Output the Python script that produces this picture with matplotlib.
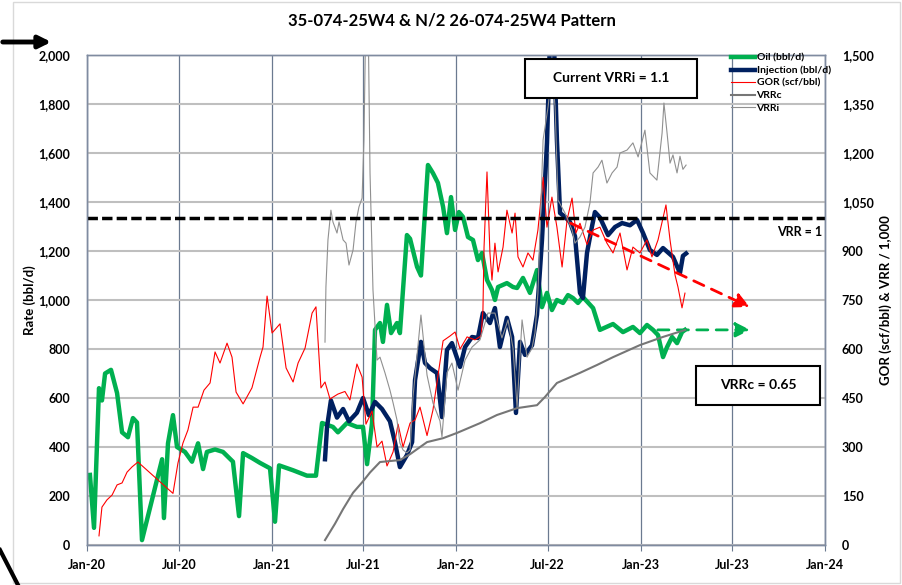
import numpy as np
import pandas as pd
import matplotlib
matplotlib.use('Agg')
import matplotlib.pyplot as plt
import matplotlib.dates as mdates
from matplotlib.patches import Rectangle, FancyArrowPatch
from matplotlib.lines import Line2D
from matplotlib.ticker import MultipleLocator, FuncFormatter

plt.rcParams['font.family'] = ['Lato', 'DejaVu Sans']
plt.rcParams['font.weight'] = 'bold'

# times are years after 1 Jan 2020
oil_t = [0.016, 0.038, 0.065, 0.081, 0.098, 0.130, 0.163, 0.190, 0.222, 0.249,
         0.271, 0.298, 0.407, 0.417, 0.439, 0.466, 0.488, 0.531, 0.569, 0.602,
         0.629, 0.650, 0.694, 0.737, 0.791, 0.824, 0.846, 0.894, 0.938, 0.992,
         1.019, 1.041, 1.117, 1.192, 1.241, 1.274, 1.333, 1.360, 1.409, 1.463,
         1.496, 1.518, 1.545, 1.561, 1.588, 1.604, 1.626, 1.648, 1.680, 1.696,
         1.734, 1.751, 1.789, 1.810, 1.848, 1.875, 1.902, 1.930, 1.951, 1.973,
         1.995, 2.016, 2.038, 2.065, 2.092, 2.119, 2.141, 2.168, 2.195, 2.211,
         2.228, 2.276, 2.309, 2.331, 2.363, 2.401, 2.439, 2.466, 2.493, 2.520,
         2.547, 2.580, 2.607, 2.634, 2.661, 2.688, 2.743, 2.780, 2.851, 2.905,
         2.959, 2.997, 3.035, 3.068, 3.095, 3.122, 3.144, 3.171, 3.198, 3.225,
         3.241]
oil = [286, 70, 640, 590, 700, 715, 620, 460, 440, 518,
       500, 20, 350, 110, 415, 530, 400, 380, 340, 415,
       310, 380, 390, 380, 340, 118, 375, 355, 335, 313,
       95, 325, 305, 283, 283, 498, 482, 460, 498, 482,
       482, 330, 498, 878, 906, 829, 980, 865, 906, 865,
       1265, 1250, 1135, 1100, 1551, 1518, 1478, 1380, 1273, 1420,
       1286, 1359, 1339, 1257, 1245, 1163, 1192, 1082, 1041, 1000,
       1053, 1069, 1053, 1049, 1090, 1029, 1122, 971, 1029, 959,
       1000, 988, 1020, 1008, 988, 1012, 967, 878, 902, 869,
       890, 865, 898, 878, 857, 767, 808, 849, 824, 869,
       878]

inj_t = [1.290, 1.301, 1.322, 1.355, 1.388, 1.420, 1.463, 1.496, 1.528, 1.561,
         1.599, 1.642, 1.669, 1.696, 1.734, 1.762, 1.778, 1.810, 1.832, 1.859,
         1.897, 1.924, 1.951, 1.978, 2.022, 2.049, 2.087, 2.119, 2.146, 2.184,
         2.211, 2.238, 2.276, 2.304, 2.325, 2.347, 2.374, 2.412, 2.439, 2.466,
         2.493, 2.509, 2.531, 2.547, 2.564, 2.591, 2.618, 2.645, 2.672, 2.688,
         2.710, 2.737, 2.753, 2.780, 2.824, 2.862, 2.900, 2.943, 2.981, 3.014,
         3.051, 3.089, 3.122, 3.176, 3.214, 3.230, 3.247]
inj = [350, 482, 590, 520, 555, 505, 540, 600, 530, 584,
       555, 505, 420, 318, 367, 420, 673, 829, 743, 722,
       702, 522, 796, 824, 727, 808, 849, 845, 947, 906,
       967, 808, 927, 849, 539, 829, 776, 815, 940, 1245,
       1641, 2050, 2050, 1653, 1355, 1339, 1318, 1260, 1029, 1008,
       1192, 1300, 1359, 1337, 1265, 1298, 1314, 1305, 1327, 1273,
       1204, 1184, 1212, 1176, 1110, 1180, 1190]

gor_t = [0.065, 0.081, 0.108, 0.136, 0.163, 0.190, 0.217, 0.244, 0.276, 0.466,
         0.493, 0.520, 0.547, 0.575, 0.602, 0.634, 0.667, 0.694, 0.721, 0.759,
         0.786, 0.808, 0.846, 0.894, 0.938, 0.954, 0.976, 1.003, 1.046, 1.079,
         1.117, 1.144, 1.182, 1.220, 1.241, 1.268, 1.290, 1.317, 1.360, 1.398,
         1.425, 1.463, 1.491, 1.512, 1.545, 1.572, 1.599, 1.626, 1.659, 1.686,
         1.713, 1.751, 1.778, 1.805, 1.843, 1.875, 1.930, 1.968, 1.995, 2.022,
         2.060, 2.103, 2.136, 2.146, 2.152, 2.168, 2.184, 2.195, 2.211, 2.228,
         2.255, 2.276, 2.304, 2.320, 2.336, 2.363, 2.390, 2.417, 2.444, 2.472,
         2.493, 2.520, 2.547, 2.575, 2.602, 2.629, 2.650, 2.672, 2.710, 2.743,
         2.780, 2.818, 2.851, 2.889, 2.927, 2.959, 2.997, 3.035, 3.062, 3.095,
         3.138, 3.160, 3.187, 3.203, 3.225, 3.241]
gor = [28, 116, 138, 153, 184, 190, 223, 239, 254, 158,
       251, 312, 352, 422, 422, 474, 496, 591, 557, 618,
       575, 468, 432, 481, 575, 606, 762, 649, 677, 542,
       499, 557, 603, 710, 729, 481, 499, 447, 462, 470,
       444, 554, 514, 370, 410, 300, 318, 242, 285, 370,
       300, 373, 383, 422, 335, 413, 625, 640, 652, 600,
       637, 628, 640, 719, 912, 1142, 894, 811, 924, 836,
       912, 1025, 955, 1016, 882, 851, 894, 872, 964, 1126,
       973, 1065, 973, 851, 995, 1062, 955, 985, 920, 964,
       973, 924, 894, 955, 842, 912, 894, 934, 882, 934,
       1041, 934, 827, 790, 726, 771]

vrri_t = [1.290, 1.295, 1.306, 1.322, 1.333, 1.355, 1.366, 1.388, 1.404, 1.420,
          1.442, 1.458, 1.474, 1.491, 1.501, 1.512, 1.523, 1.534, 1.550, 1.572,
          1.588, 1.615, 1.642, 1.659, 1.680, 1.696, 1.713, 1.734, 1.751, 1.767,
          1.810, 1.843, 1.875, 1.913, 1.924, 1.951, 1.978, 2.011, 2.049, 2.087,
          2.130, 2.173, 2.211, 2.249, 2.282, 2.309, 2.331, 2.358, 2.385, 2.412,
          2.428, 2.444, 2.472, 2.499, 2.520, 2.537, 2.553, 2.591, 2.629, 2.645,
          2.672, 2.699, 2.726, 2.743, 2.770, 2.791, 2.818, 2.846, 2.873, 2.889,
          2.927, 2.959, 2.987, 3.024, 3.051, 3.089, 3.117, 3.127, 3.144, 3.160,
          3.176, 3.198, 3.214, 3.230, 3.247]
vrri = [0.621, 0.790, 0.934, 1.025, 0.989, 0.955, 0.989, 0.934, 0.924, 0.857,
        0.903, 0.989, 1.035, 1.062, 1.240, 1.650, 1.650, 1.139, 0.781, 0.566,
        0.575, 0.527, 0.474, 0.435, 0.383, 0.312, 0.291, 0.282, 0.291, 0.453,
        0.704, 0.520, 0.435, 0.380, 0.331, 0.527, 0.557, 0.474, 0.566, 0.606,
        0.628, 0.710, 0.710, 0.634, 0.689, 0.603, 0.422, 0.689, 0.575, 0.603,
        0.649, 0.771, 1.240, 1.341, 1.454, 1.341, 1.056, 1.016, 0.964, 0.924,
        0.943, 0.973, 1.047, 1.139, 1.157, 1.178, 1.108, 1.139, 1.157, 1.200,
        1.209, 1.231, 1.188, 1.270, 1.139, 1.117, 1.261, 1.353, 1.261, 1.169,
        1.194, 1.139, 1.190, 1.150, 1.163]

vrrc_t = [1.290, 1.344, 1.388, 1.442, 1.496, 1.534, 1.588, 1.696, 1.751, 1.843,
          1.930, 2.005, 2.130, 2.222, 2.331, 2.439, 2.482, 2.547, 2.672, 2.764,
          2.851, 2.997, 3.122, 3.241]
vrrc = [0.015, 0.065, 0.110, 0.160, 0.195, 0.222, 0.254, 0.260, 0.278, 0.315,
        0.327, 0.343, 0.373, 0.398, 0.419, 0.428, 0.453, 0.496, 0.527, 0.551,
        0.575, 0.612, 0.637, 0.658]


def to_date(t):
    return pd.Timestamp('2020-01-01') + pd.to_timedelta(np.asarray(t) * 365.25, unit='D')


W, H = 903, 585
fig = plt.figure(figsize=(W / 100, H / 100), dpi=100)
ax = fig.add_axes([87 / W, 40 / H, 738 / W, 490 / H])
ax2 = ax.twinx()

l_oil, = ax.plot(to_date(oil_t), oil, color='#00b050', lw=3.2, label='Oil (bbl/d)')
l_inj, = ax.plot(to_date(inj_t), inj, color='#002060', lw=3.2, label='Injection (bbl/d)')
l_gor, = ax2.plot(to_date(gor_t), gor, color='#ff0000', lw=0.8, label='GOR (scf/bbl)')
l_vrrc, = ax2.plot(to_date(vrrc_t), np.array(vrrc) * 1000, color='#767676', lw=1.5, label='VRRc')
l_vrri, = ax2.plot(to_date(vrri_t), np.array(vrri) * 1000, color='#909090', lw=0.8, label='VRRi')

ax2.axhline(1000, color='black', lw=2.5, dashes=(3, 1.2))

# trend arrows
ax2.annotate('', xy=(to_date([3.605])[0], 725), xytext=(to_date([2.607])[0], 989),
             arrowprops=dict(arrowstyle='-|>', color='red', lw=2, linestyle=(0, (4, 3)),
                             mutation_scale=22))
ax.annotate('', xy=(to_date([3.610])[0], 878), xytext=(to_date([3.079])[0], 878),
            arrowprops=dict(arrowstyle='-|>', color='#00b050', lw=2, linestyle=(0, (4, 3)),
                            mutation_scale=22))
ax2.text(to_date([3.984])[0], 958, 'VRR = 1', ha='right', va='center', fontsize=9,
         fontweight='bold')

ax.set_xlim(pd.Timestamp('2020-01-01'), pd.Timestamp('2024-01-01'))
ax.set_ylim(0, 2000)
ax2.set_ylim(0, 1500)
ax.yaxis.set_major_locator(MultipleLocator(200))
ax2.yaxis.set_major_locator(MultipleLocator(150))
fmt = FuncFormatter(lambda v, p: f'{v:,.0f}')
ax.yaxis.set_major_formatter(fmt)
ax2.yaxis.set_major_formatter(fmt)
ax.xaxis.set_major_locator(mdates.MonthLocator(bymonth=[1, 7]))
ax.xaxis.set_major_formatter(mdates.DateFormatter('%b-%y'))

ax.set_axisbelow(True)
ax.grid(axis='y', color='#bfbfbf', lw=1.5)
ax.grid(axis='x', color='#6b7a90', lw=0.9)
ax.tick_params(axis='y', length=0, pad=12, labelsize=9)
ax2.tick_params(axis='y', length=0, pad=12, labelsize=9)
ax.tick_params(axis='x', length=4, color='#6b7a90', pad=6, labelsize=9)
for a in (ax, ax2):
    for s in a.spines.values():
        s.set_color('#7f8ba0')
        s.set_linewidth(1)

fig.text(30 / W, 1 - 300 / H, 'Rate (bbl/d)', rotation=90, ha='center', va='center',
         fontsize=9.5, fontweight='bold')
fig.text(886 / W, 1 - 300 / H, 'GOR (scf/bbl) & VRR / 1,000', rotation=90, ha='center',
         va='center', fontsize=9.5, fontweight='bold')
fig.text(452 / W, 1 - 20 / H, '35-074-25W4 & N/2 26-074-25W4 Pattern', ha='center',
         va='center', fontsize=12, fontweight='bold')

ax2.legend(handles=[l_oil, l_inj, l_gor, l_vrrc, l_vrri], loc='upper left',
           bbox_to_anchor=(731 / W, 1 - 53 / H), bbox_transform=fig.transFigure,
           frameon=False, prop={'size': 7.5, 'weight': 'bold'}, handlelength=2.3,
           handletextpad=0.15, labelspacing=0.32, borderpad=0, borderaxespad=0)

# callout boxes
fig.add_artist(Rectangle((525 / W, 1 - 98 / H), 172 / W, 39 / H, transform=fig.transFigure,
                         facecolor='white', edgecolor='black', lw=1.5, zorder=5))
fig.text(611 / W, 1 - 78 / H, 'Current VRRi = 1.1', ha='center', va='center',
         fontsize=10, fontweight='bold', zorder=6)
fig.add_artist(Rectangle((696 / W, 1 - 405 / H), 124 / W, 39 / H, transform=fig.transFigure,
                         facecolor='white', edgecolor='black', lw=1.5, zorder=5))
fig.text(758 / W, 1 - 385 / H, 'VRRc = 0.65', ha='center', va='center',
         fontsize=10, fontweight='bold', zorder=6)

# frame and slide marks
fig.add_artist(Rectangle((13 / W, 2 / H), 887 / W, 581 / H, transform=fig.transFigure,
                         fill=False, edgecolor='#d9d9d9', lw=1))
fig.add_artist(FancyArrowPatch((0, 1 - 42 / H), (54 / W, 1 - 42 / H), transform=fig.transFigure,
                               arrowstyle='-|>', mutation_scale=18, lw=3.5, color='black'))
fig.add_artist(Line2D([0, 18 / W], [1 - 550 / H, 0], transform=fig.transFigure,
                      color='black', lw=3))

fig.savefig('out.png', dpi=100)
